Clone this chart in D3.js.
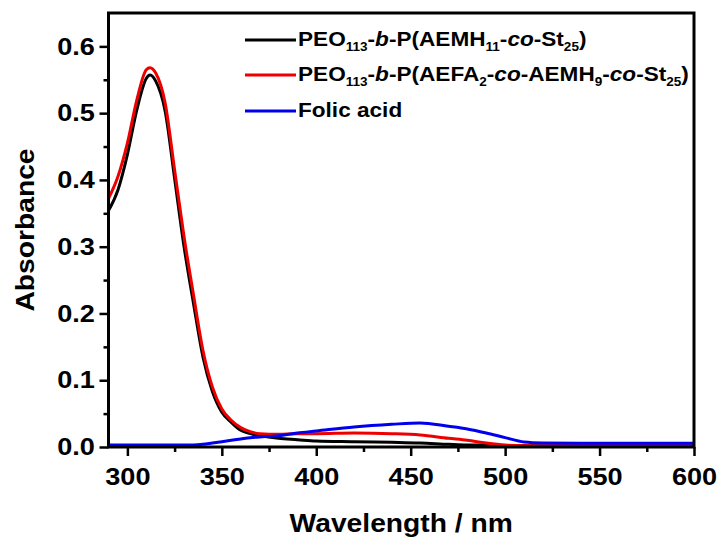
<!DOCTYPE html>
<html>
<head>
<meta charset="utf-8">
<script src="https://cdn.jsdelivr.net/npm/d3@7"></script>
<style>
  body { margin: 0; background: #fff; }
  text { font-family: "Liberation Sans", Arial, sans-serif; font-weight: bold; }
</style>
</head>
<body>
<svg id="chart"></svg>
<script>
// wavelengths (nm), shared by all three spectra
const wavelengths = [290, 295, 300, 305, 310, 312, 315, 320, 325, 330, 335, 340, 345, 350,
  355, 360, 365, 370, 380, 390, 400, 420, 440, 455, 470, 480, 490, 500, 510, 520, 540, 570, 600];

const blackAbs = [0.354, 0.385, 0.438, 0.505, 0.552, 0.557, 0.548, 0.503, 0.402, 0.300, 0.215, 0.135, 0.083, 0.052,
  0.037, 0.025, 0.020, 0.017, 0.013, 0.011, 0.009, 0.008, 0.007, 0.006, 0.004, 0.003, 0.003, 0.002, 0.002, 0.002, 0.002, 0.002, 0.002];

const redAbs = [0.372, 0.405, 0.455, 0.520, 0.565, 0.568, 0.560, 0.515, 0.415, 0.315, 0.228, 0.145, 0.090, 0.057,
  0.040, 0.029, 0.023, 0.020, 0.019, 0.020, 0.020, 0.021, 0.020, 0.018, 0.013, 0.010, 0.006, 0.003, 0.002, 0.002, 0.002, 0.002, 0.002];

const blueAbs = [0.003, 0.003, 0.003, 0.003, 0.003, 0.003, 0.003, 0.003, 0.003, 0.003, 0.003, 0.004, 0.006, 0.008,
  0.010, 0.012, 0.014, 0.015, 0.017, 0.021, 0.024, 0.030, 0.034, 0.036, 0.031, 0.027, 0.021, 0.014, 0.0075, 0.006, 0.0055, 0.0055, 0.0055];

const xTicks = [300, 350, 400, 450, 500, 550, 600];
const xMinorTicks = [325, 375, 425, 475, 525, 575];
const yTicks = [0.0, 0.1, 0.2, 0.3, 0.4, 0.5, 0.6];
const yMinorTicks = [0.05, 0.15, 0.25, 0.35, 0.45, 0.55];

// legend labels as runs: [text, style] where style is "", "sub" or "it"
const legendLabels = [
  [["PEO", ""], ["113", "sub"], ["-", ""], ["b", "it"], ["-P(AEMH", ""], ["11", "sub"], ["-", ""], ["co", "it"], ["-St", ""], ["25", "sub"], [")", ""]],
  [["PEO", ""], ["113", "sub"], ["-", ""], ["b", "it"], ["-P(AEFA", ""], ["2", "sub"], ["-", ""], ["co", "it"], ["-AEMH", ""], ["9", "sub"], ["-", ""], ["co", "it"], ["-St", ""], ["25", "sub"], [")", ""]],
  [["Folic acid", ""]]
];
const seriesColors = ["#000000", "#ee0000", "#0000ee"];
const seriesValues = [blackAbs, redAbs, blueAbs];

const width = 723, height = 540;
const margin = { top: 13, right: 29, bottom: 93, left: 108.5 };
const stretch = 1.13; // the original font runs wider than Liberation Sans

const svg = d3.select("#chart").attr("width", width).attr("height", height);

const x = d3.scaleLinear().domain([290, 600]).range([margin.left, width - margin.right]);
const y = d3.scaleLinear().domain([0, 0.65]).range([height - margin.bottom, margin.top]);

svg.append("clipPath").attr("id", "clip")
  .append("rect")
  .attr("x", margin.left).attr("y", margin.top)
  .attr("width", x.range()[1] - margin.left)
  .attr("height", y.range()[0] - margin.top);

// curves
const line = d3.line()
  .x(d => x(d[0]))
  .y(d => y(d[1]))
  .curve(d3.curveMonotoneX);

seriesValues.forEach((vals, i) => {
  svg.append("path")
    .datum(wavelengths.map((w, j) => [w, vals[j]]))
    .attr("clip-path", "url(#clip)")
    .attr("fill", "none")
    .attr("stroke", seriesColors[i])
    .attr("stroke-width", 3)
    .attr("stroke-linejoin", "round")
    .attr("d", line);
});

// axes
const xAxis = svg.append("g")
  .attr("transform", `translate(0,${y(0)})`)
  .call(d3.axisBottom(x).tickValues(xTicks).tickSize(9).tickPadding(12).tickFormat(d3.format("d")));
const xMinor = svg.append("g")
  .attr("transform", `translate(0,${y(0)})`)
  .call(d3.axisBottom(x).tickValues(xMinorTicks).tickSize(5).tickFormat(""));
const yAxis = svg.append("g")
  .attr("transform", `translate(${margin.left},0)`)
  .call(d3.axisLeft(y).tickValues(yTicks).tickSize(9).tickPadding(3).tickFormat(d3.format(".1f")));
const yMinor = svg.append("g")
  .attr("transform", `translate(${margin.left},0)`)
  .call(d3.axisLeft(y).tickValues(yMinorTicks).tickSize(5).tickFormat(""));

[xAxis, xMinor, yAxis, yMinor].forEach(g => {
  g.select(".domain").remove();
  g.selectAll(".tick line").attr("stroke", "#000").attr("stroke-width", 2.5);
  g.selectAll("text").attr("fill", "#000").attr("font-size", 24)
    .attr("transform", `scale(${stretch},1)`)
    .style("font-family", "'Liberation Sans', Arial, sans-serif").style("font-weight", "bold");
});

// frame
svg.append("rect")
  .attr("x", margin.left).attr("y", margin.top)
  .attr("width", x.range()[1] - margin.left)
  .attr("height", y.range()[0] - margin.top)
  .attr("fill", "none")
  .attr("stroke", "#000")
  .attr("stroke-width", 3);

// axis titles
svg.append("text")
  .attr("transform", `translate(${(margin.left + x.range()[1]) / 2},532) scale(${stretch},1)`)
  .attr("text-anchor", "middle")
  .attr("font-size", 25)
  .text("Wavelength / nm");

svg.append("text")
  .attr("transform", `translate(34,${(margin.top + y.range()[0]) / 2}) rotate(-90) scale(${stretch},1)`)
  .attr("text-anchor", "middle")
  .attr("font-size", 25)
  .text("Absorbance");

// legend
const legendRowY = [40, 75, 111];
legendLabels.forEach((runs, i) => {
  svg.append("line")
    .attr("x1", 245).attr("x2", 296)
    .attr("y1", legendRowY[i]).attr("y2", legendRowY[i])
    .attr("stroke", seriesColors[i])
    .attr("stroke-width", 3);
  const t = svg.append("text")
    .attr("transform", `translate(298,${legendRowY[i] + 6}) scale(${stretch},1)`)
    .attr("font-size", 20);
  // subscripts drop by 5px, the next run comes back up
  let shifted = false;
  runs.forEach(([s, style]) => {
    const ts = t.append("tspan").text(s);
    if (style === "sub") {
      ts.attr("font-size", 12).attr("dy", shifted ? 0 : 5);
      shifted = true;
    } else {
      if (style === "it") ts.attr("font-style", "italic");
      ts.attr("dy", shifted ? -5 : 0);
      shifted = false;
    }
  });
});
</script>
</body>
</html>
